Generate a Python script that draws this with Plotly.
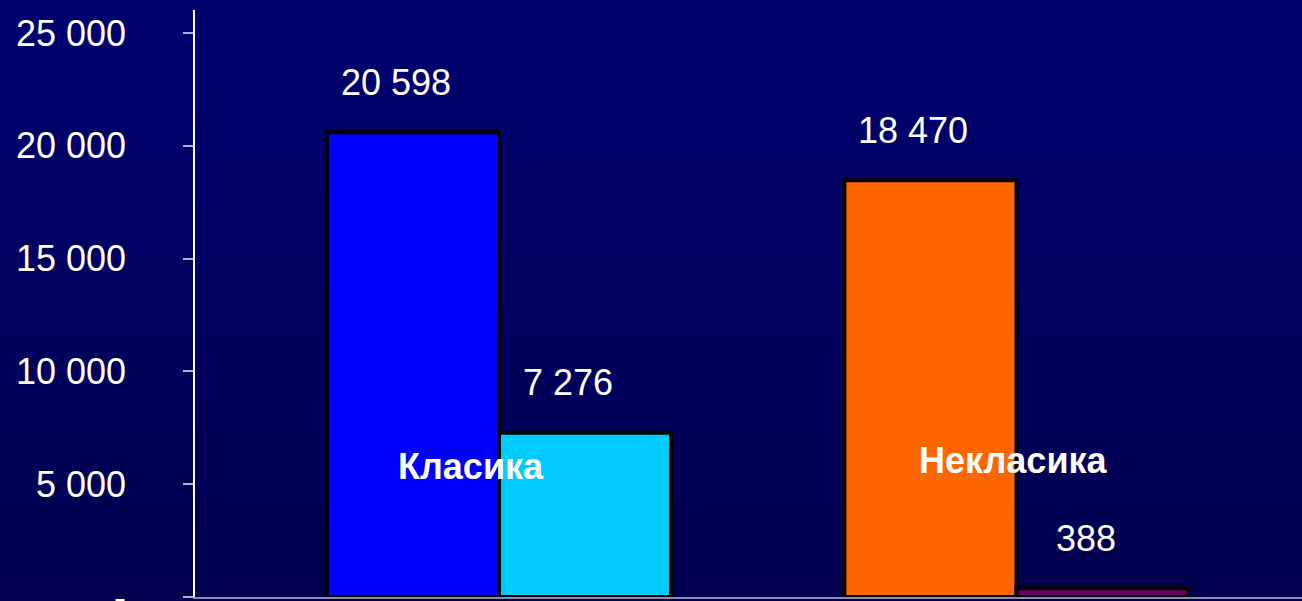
import plotly.graph_objects as go

categories = ["Класика", "Некласика"]
series_a = [20598, 18470]   # first bar in each group
series_b = [7276, 388]      # second bar in each group
colors_a = ["#0000FF", "#FF6600"]
colors_b = ["#00CCFF", "#660066"]
tick_vals = [0, 5000, 10000, 15000, 20000, 25000]
tick_text = ["-", "5 000", "10 000", "15 000", "20 000", "25 000"]


def fmt(v):
    return f"{v:,}".replace(",", " ")


fig = go.Figure()
fig.add_trace(go.Bar(x=categories, y=series_a, marker=dict(color=colors_a, line=dict(color="black", width=4)),
                     showlegend=False, hoverinfo="skip"))
fig.add_trace(go.Bar(x=categories, y=series_b, marker=dict(color=colors_b, line=dict(color="black", width=4)),
                     showlegend=False, hoverinfo="skip"))

# gradient background stripes
n = 60
top = (0, 0, 112)
bot = (0, 0, 78)
y0, y1 = -0.01, 1.02
for i in range(n):
    t = i / (n - 1)
    c = tuple(round(bot[k] + (top[k] - bot[k]) * t) for k in range(3))
    fig.add_shape(type="rect", xref="paper", yref="paper", x0=-0.25, x1=1.05,
                  y0=y0 + (y1 - y0) * i / n, y1=y0 + (y1 - y0) * (i + 1) / n + 0.001,
                  fillcolor=f"rgb{c}", line=dict(width=0), layer="below")

font = "Arial, Liberation Sans, sans-serif"
bw = 0.3324
anns = []
for i, cat in enumerate(categories):
    for j, v in enumerate([series_a[i], series_b[i]]):
        xc = i + (j - 0.5) * bw
        anns.append(dict(x=xc, y=v, xref="x", yref="y", text=fmt(v), showarrow=False,
                         xshift=-17, yshift=50, font=dict(family=font, size=36, color="white")))
label_pos = [(-0.054, 5807), (0.995, 6073)]
for cat, (lx, ly) in zip(categories, label_pos):
    anns.append(dict(x=lx, y=ly, xref="x", yref="y", text=f"<b>{cat}</b>", showarrow=False,
                     font=dict(family=font, size=36, color="white")))

fig.update_layout(
    width=1302, height=601,
    margin=dict(l=195, r=0, t=10, b=4, autoexpand=False),
    paper_bgcolor="#00005e",
    plot_bgcolor="rgba(0,0,0,0)",
    barmode="group", bargap=0.335, bargroupgap=0,
    annotations=anns,
    xaxis=dict(range=[-0.5874, 1.5517], showticklabels=False, showgrid=False, zeroline=False,
               showline=True, linecolor="#8c8cb0", linewidth=2, ticks="", automargin=False),
    yaxis=dict(range=[0, 26020], tickvals=tick_vals, ticktext=tick_text, showgrid=False, zeroline=False,
               showline=True, linecolor="white", linewidth=1.5, ticks="outside", ticklen=10,
               tickcolor="#b0b0c8", tickwidth=1.5, ticklabelstandoff=50, ticklabeloverflow="allow",
               automargin=False, tickfont=dict(family=font, size=36, color="white")),
)

fig.write_html("out.html", config={"displayModeBar": False},
               post_script="document.body.style.margin='0';document.body.style.overflow='hidden';")
